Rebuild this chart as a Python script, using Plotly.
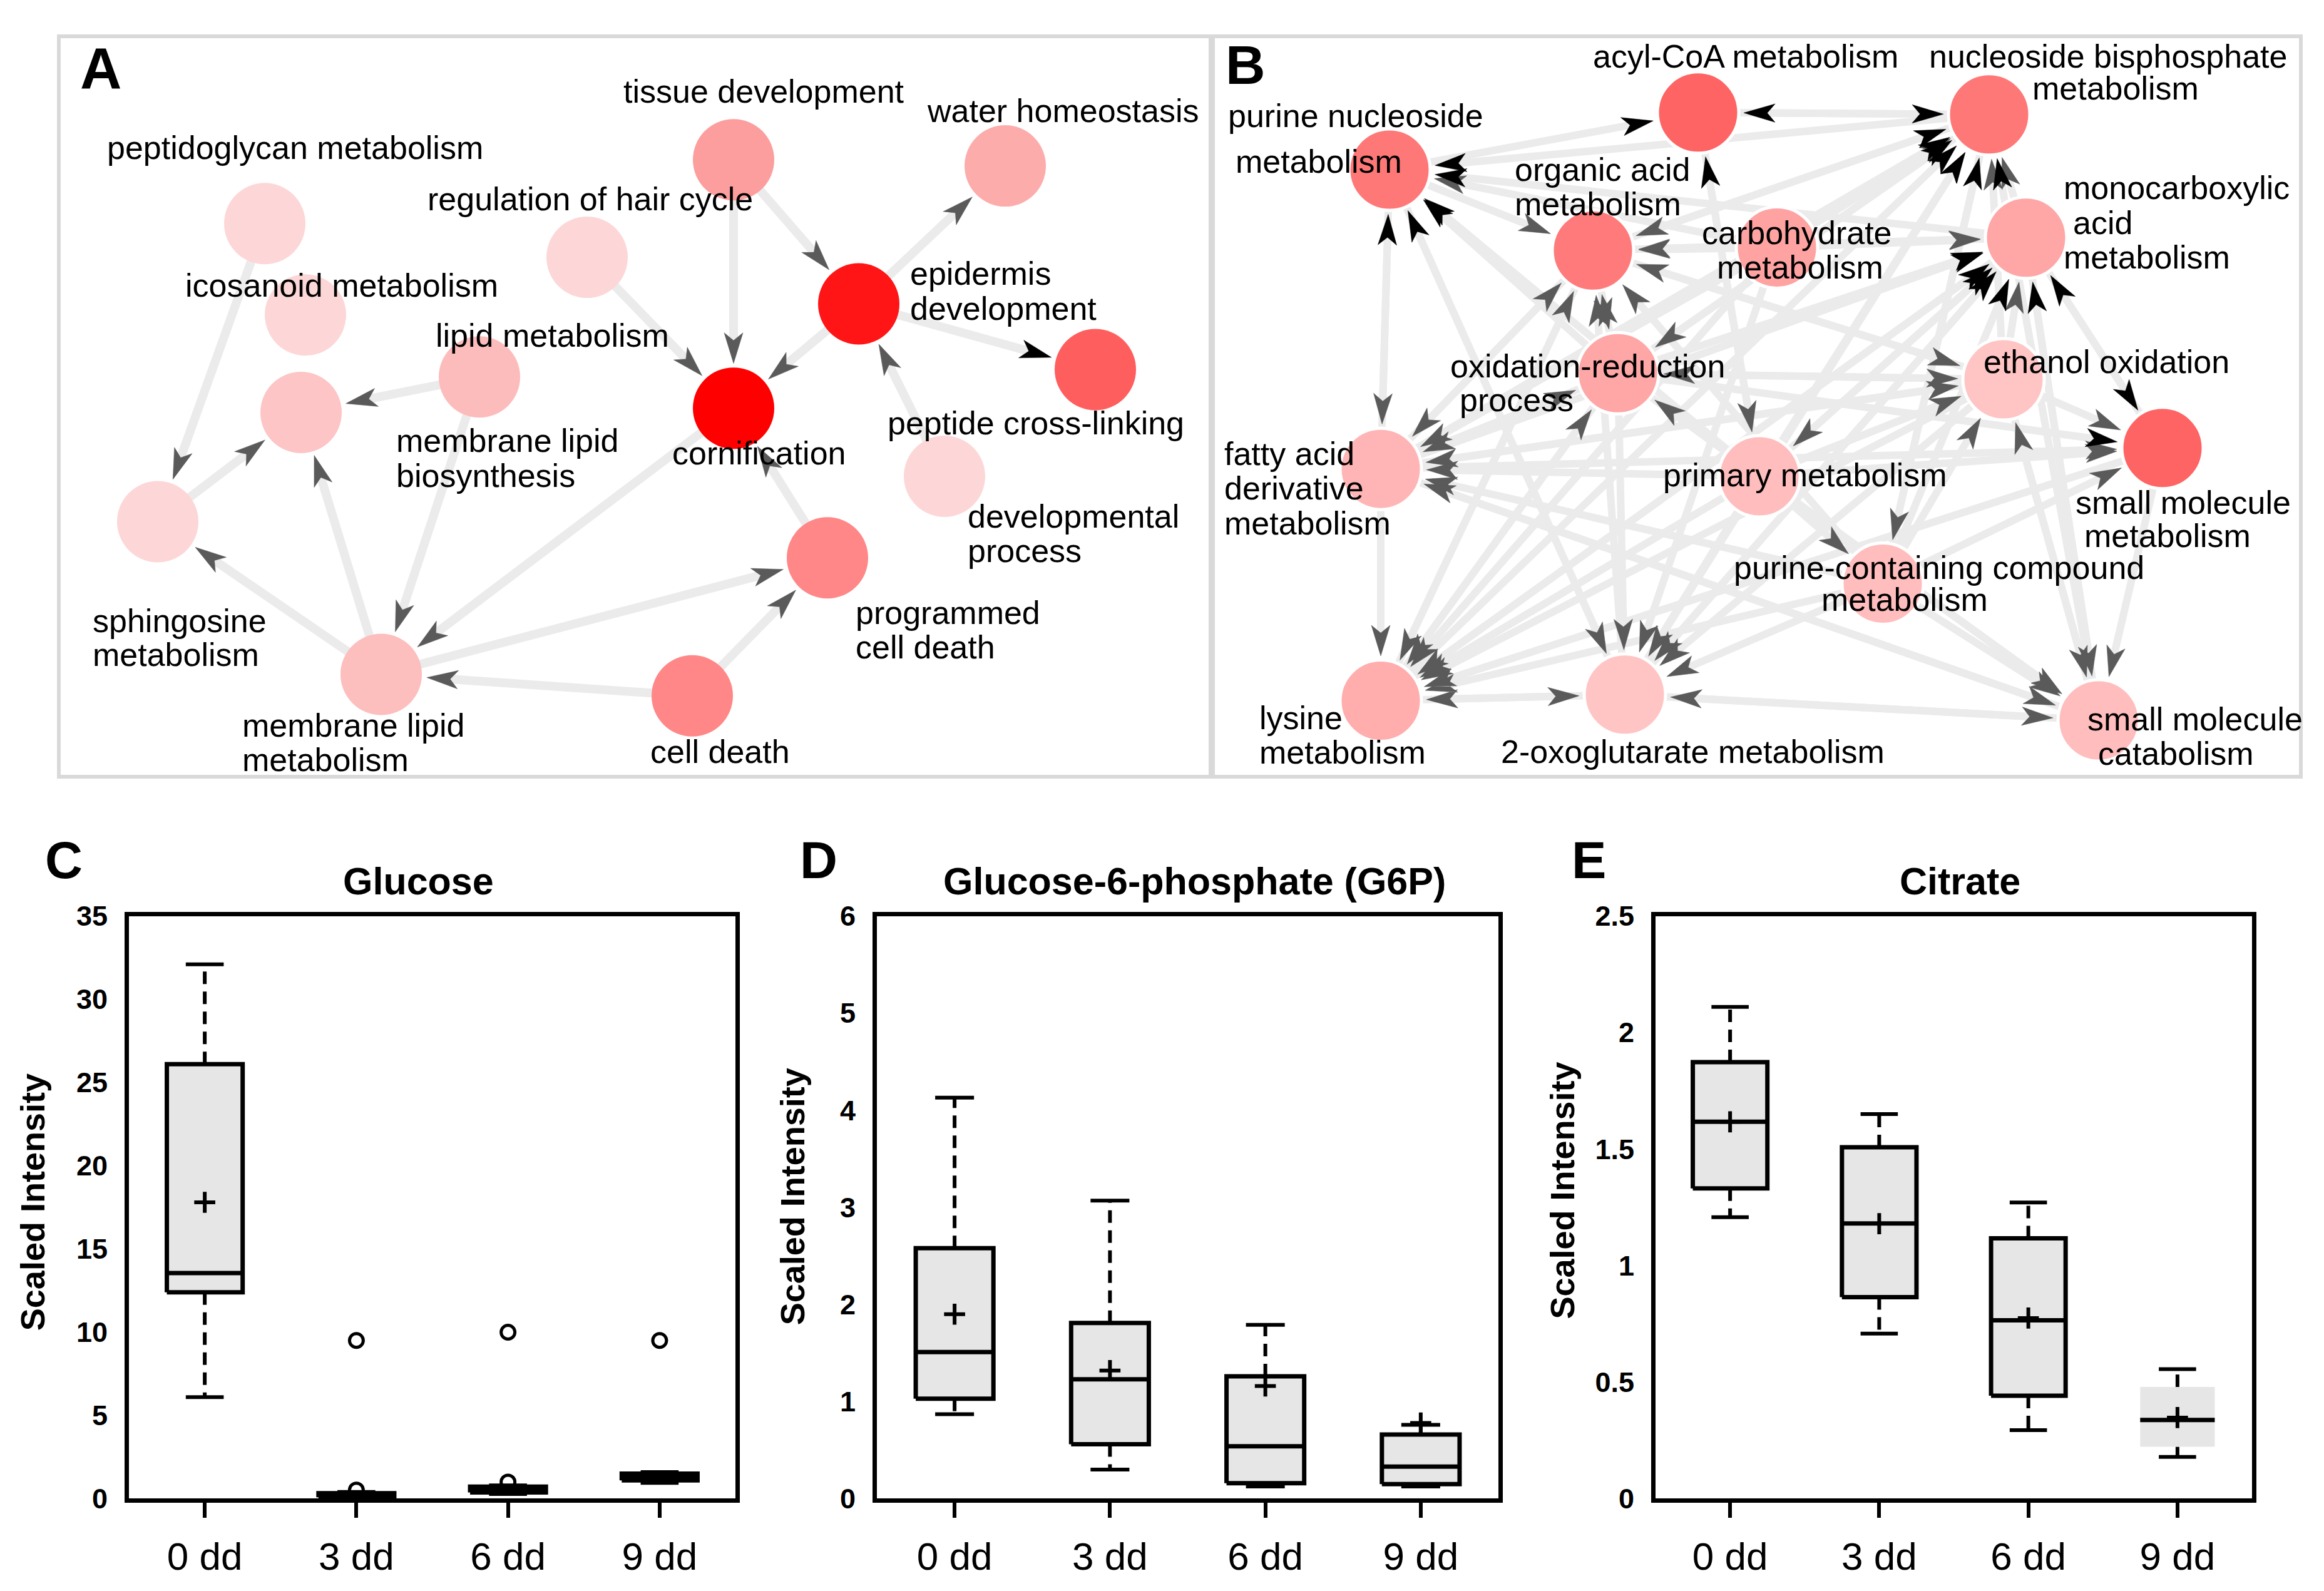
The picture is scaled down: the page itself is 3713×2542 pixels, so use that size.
import math
import plotly.graph_objects as go

W, H = 3713, 2542
FONT = "Liberation Sans"

# ------------------------------------------------------------------
# Box-plot data
# ------------------------------------------------------------------
groups = ["0 dd", "3 dd", "6 dd", "9 dd"]

glc_q1 = [12.4, 0.08, 0.38, 1.10]
glc_med = [13.55, 0.20, 0.55, 1.30]
glc_q3 = [26.1, 0.33, 0.72, 1.50]
glc_lo = [6.1, 0.03, 0.28, 0.95]
glc_hi = [32.1, 0.40, 0.80, 1.60]
glc_mean = [17.8, None, None, None]
glc_out_group = ["3 dd", "3 dd", "6 dd", "6 dd", "9 dd"]
glc_out_value = [9.5, 0.52, 10.0, 1.0, 9.5]

g6p_q1 = [1.03, 0.56, 0.16, 0.15]
g6p_med = [1.51, 1.23, 0.54, 0.33]
g6p_q3 = [2.58, 1.81, 1.26, 0.66]
g6p_lo = [0.87, 0.30, 0.125, 0.125]
g6p_hi = [4.13, 3.07, 1.79, 0.76]
g6p_mean = [1.90, 1.32, 1.16, 0.78]

cit_q1 = [1.331, 0.865, 0.442, 0.223]
cit_med = [1.617, 1.181, 0.765, 0.338]
cit_q3 = [1.873, 1.508, 1.117, 0.479]
cit_lo = [1.208, 0.708, 0.294, 0.179]
cit_hi = [2.110, 1.650, 1.271, 0.556]
cit_mean = [1.617, 1.180, 0.775, 0.348]

# ------------------------------------------------------------------
# Network A (GO terms): ids, layout positions, node colours, edges
# ------------------------------------------------------------------
a_ids = ["pep", "ico", "hair", "tis", "wat", "epi", "mlb", "lip", "cor",
         "pcl", "dev", "sph", "mlm", "pcd", "cd"]
a_x = [423, 488, 938, 1172, 1606, 1372, 766, 481, 1172, 1750, 1509, 252, 609, 1322, 1106]
a_y = [339, 488, 394, 235, 245, 470, 589, 647, 640, 577, 751, 825, 1074, 884, 1109]
a_col = ["#FDD7D7", "#FDD7D7", "#FDD7D7", "#FC9E9E", "#FDACAC", "#FF1515", "#FDBCBC",
         "#FDC5C5", "#FF0000", "#FF5E5E", "#FDD7D7", "#FDD7D7", "#FDBEBE", "#FF8787", "#FF8787"]
a_edges = [("pep", "sph", "g"), ("sph", "lip", "g"), ("mlb", "lip", "g"), ("mlm", "lip", "g"),
           ("mlm", "sph", "g"), ("mlb", "mlm", "g"), ("cor", "mlm", "g"), ("mlm", "pcd", "g"),
           ("cd", "mlm", "g"), ("cd", "pcd", "g"), ("pcd", "cor", "g"), ("hair", "cor", "g"),
           ("tis", "cor", "g"), ("tis", "epi", "g"), ("epi", "cor", "g"), ("epi", "wat", "g"),
           ("epi", "pcl", "k"), ("dev", "epi", "g")]
a_lab_text = ["peptidoglycan metabolism", "icosanoid metabolism", "regulation of hair cycle",
              "tissue development", "water homeostasis", "epidermis", "development",
              "lipid metabolism", "membrane lipid", "biosynthesis", "cornification",
              "peptide cross-linking", "developmental", "process", "sphingosine", "metabolism",
              "membrane lipid", "metabolism", "programmed", "cell death", "cell death"]
a_lab_x = [169, 294, 681, 994, 1479, 1452, 1452, 694, 631, 631, 1072, 1416, 1544, 1544,
           146, 146, 385, 385, 1365, 1365, 1037]
a_lab_y = [215, 440, 299, 123, 155, 420, 478, 521, 693, 750, 713, 664, 816, 872,
           987, 1042, 1157, 1213, 974, 1030, 1200]
a_lab_anchor = ["left"] * len(a_lab_text)

# ------------------------------------------------------------------
# Network B
# ------------------------------------------------------------------
b_ids = ["PN", "AC", "NB", "OA", "CH", "MC", "OR", "EO", "SM", "FA", "PM", "PC", "LY", "OG", "SC"]
b_x = [2220, 2713, 3178, 2545, 2839, 3237, 2585, 3201, 3455, 2206, 2811, 3008, 2206, 2596, 3353]
b_y = [251, 158, 161, 383, 378, 362, 583, 593, 705, 739, 751, 926, 1117, 1107, 1149]
b_col = ["#FF7878", "#FF6464", "#FF7878", "#FF7B7B", "#FFA2A2", "#FFA6A6", "#FFA6A6", "#FFC4C4",
         "#FF6464", "#FFB5B5", "#FFBDBD", "#FFBDBD", "#FFADAD", "#FFC5C5", "#FFBDBD"]
b_edges = [
    ("NB", "PN", "k"), ("MC", "PN", "k"), ("CH", "PN", "g"), ("OR", "PN", "k"), ("PM", "PN", "k"),
    ("OG", "PN", "k"), ("FA", "PN", "k"),
    ("PN", "AC", "k"), ("NB", "AC", "k"), ("PM", "AC", "k"),
    ("AC", "NB", "k"), ("OA", "NB", "k"), ("CH", "NB", "g"), ("OR", "NB", "k"), ("FA", "NB", "k"),
    ("PM", "NB", "k"), ("OG", "NB", "k"), ("EO", "NB", "g"), ("MC", "NB", "g"), ("PC", "NB", "k"),
    ("SC", "NB", "k"), ("LY", "NB", "k"),
    ("CH", "MC", "g"), ("OA", "MC", "g"), ("OR", "MC", "k"), ("FA", "MC", "k"), ("LY", "MC", "k"),
    ("PM", "MC", "k"), ("OG", "MC", "k"), ("EO", "MC", "g"), ("PC", "MC", "k"), ("SC", "MC", "k"),
    ("SM", "MC", "k"),
    ("PN", "OA", "g"), ("NB", "OA", "g"), ("CH", "OA", "g"), ("MC", "OA", "g"), ("EO", "OA", "g"),
    ("PC", "OA", "g"), ("OR", "OA", "g"), ("OG", "OA", "g"), ("FA", "OA", "g"), ("LY", "OA", "g"),
    ("OA", "OR", "g"), ("NB", "OR", "g"), ("EO", "OR", "g"), ("FA", "OR", "g"), ("LY", "OR", "g"),
    ("PM", "OR", "g"),
    ("OA", "EO", "g"), ("OR", "EO", "g"), ("FA", "EO", "g"), ("PM", "EO", "g"), ("PC", "EO", "g"),
    ("SC", "EO", "g"),
    ("MC", "SM", "k"), ("EO", "SM", "g"), ("PM", "SM", "g"), ("FA", "SM", "g"), ("PC", "SM", "g"),
    ("OR", "SM", "k"),
    ("MC", "SC", "g"), ("EO", "SC", "g"), ("SM", "SC", "g"), ("PM", "SC", "g"), ("PC", "SC", "g"),
    ("OR", "SC", "g"), ("FA", "SC", "g"), ("OG", "SC", "g"),
    ("NB", "PC", "g"), ("PM", "PC", "g"),
    ("AC", "PM", "g"), ("MC", "PM", "g"),
    ("PN", "FA", "g"), ("OA", "FA", "g"), ("OR", "FA", "g"), ("CH", "FA", "g"), ("PM", "FA", "g"),
    ("EO", "FA", "g"), ("SC", "FA", "g"), ("PC", "FA", "g"),
    ("FA", "LY", "g"), ("OR", "LY", "g"), ("OA", "LY", "g"), ("CH", "LY", "g"), ("PM", "LY", "g"),
    ("EO", "LY", "g"), ("MC", "LY", "g"), ("SM", "LY", "g"), ("PC", "LY", "g"), ("OG", "LY", "g"),
    ("OR", "OG", "g"), ("PN", "OG", "g"), ("PM", "OG", "g"), ("CH", "OG", "g"), ("EO", "OG", "g"),
    ("MC", "OG", "g"), ("PC", "OG", "g"), ("LY", "OG", "g"), ("SC", "OG", "g"),
]
b_lab_text = ["purine nucleoside", "metabolism", "acyl-CoA metabolism", "nucleoside bisphosphate",
              "metabolism", "organic acid", "metabolism", "carbohydrate", "metabolism",
              "monocarboxylic", "acid", "metabolism", "oxidation-reduction", "process",
              "ethanol oxidation", "small molecule", "metabolism", "fatty acid", "derivative",
              "metabolism", "primary metabolism", "purine-containing compound", "metabolism",
              "lysine", "metabolism", "2-oxoglutarate metabolism", "small molecule", "catabolism"]
b_lab_x = [1960, 1972, 2543, 3368, 3380, 2418, 2418, 2871, 2876, 3295, 3310, 3295, 2315, 2330,
           3167, 3314, 3328, 1954, 1954, 1954, 2655, 3098, 3043, 2010, 2010, 2396, 3333, 3350]
b_lab_y = [163, 238, 66, 66, 118, 251, 307, 354, 410, 281, 338, 394, 571, 627,
           564, 794, 848, 714, 770, 828, 749, 900, 952, 1145, 1201, 1200, 1147, 1203]
b_lab_anchor = ["left", "left", "left", "center", "center", "left", "left", "center", "center",
                "left", "left", "left", "left", "left", "left", "left", "left", "left", "left",
                "left", "left", "center", "center", "left", "left", "left", "left", "left"]

# ------------------------------------------------------------------
# Layout geometry (page pixels)
# ------------------------------------------------------------------
NET_TOP, NET_BOT = 37, 1238
A_LEFT, A_RIGHT = 97, 1931
B_LEFT, B_RIGHT = 1941, 3673
BOX_TOP, BOX_BOT = 1468, 2418
C_X = (206, 1175)
D_X = (1401, 2394)
E_X = (2645, 3598)

fig = go.Figure()


def xdom(a, b):
    return [a / W, b / W]


def ydom(top, bot):
    return [1 - bot / H, 1 - top / H]


# ------------------------------------------------------------------
# network drawing
# ------------------------------------------------------------------
def add_network(ids, xs, ys, cols, edges, xa, ya, edge_w, node_line_w):
    pos = {i: (x, y) for i, x, y in zip(ids, xs, ys)}
    R = 65
    L, AW = 50, 30
    ex, ey = [], []
    arrows = {"g": ([], []), "k": ([], [])}
    for s, t, c in edges:
        x0, y0 = pos[s]
        x1, y1 = pos[t]
        dx, dy = x1 - x0, y1 - y0
        d = math.hypot(dx, dy)
        ux, uy = dx / d, dy / d
        px, py = -uy, ux
        tx, ty = x1 - ux * (R + 8), y1 - uy * (R + 8)
        bx, by = tx - ux * L, ty - uy * L
        nx, ny = tx - ux * L * 0.75, ty - uy * L * 0.75
        ex += [x0, nx, None]
        ey += [y0, ny, None]
        ax, ay = arrows[c]
        ax += [tx, bx + px * AW / 2, nx, bx - px * AW / 2, tx, None]
        ay += [ty, by + py * AW / 2, ny, by - py * AW / 2, ty, None]
    fig.add_trace(go.Scatter(x=ex, y=ey, mode="lines", xaxis=xa, yaxis=ya,
                             line=dict(color="#EBEBEB", width=edge_w), hoverinfo="skip",
                             showlegend=False))
    for c, colr in (("g", "#5A5A5A"), ("k", "#000000")):
        ax, ay = arrows[c]
        if ax:
            fig.add_trace(go.Scatter(x=ax, y=ay, mode="lines", fill="toself", fillcolor=colr,
                                     line=dict(color=colr, width=0.5), xaxis=xa, yaxis=ya,
                                     hoverinfo="skip", showlegend=False))
    fig.add_trace(go.Scatter(x=xs, y=ys, mode="markers", xaxis=xa, yaxis=ya,
                             marker=dict(size=2 * R, color=cols,
                                         line=dict(color="white", width=node_line_w)),
                             hoverinfo="skip", showlegend=False))


add_network(a_ids, a_x, a_y, a_col, a_edges, "x4", "y4", 14, 0)
add_network(b_ids, b_x, b_y, b_col, b_edges, "x5", "y5", 12, 5)

annotations = []
for txt, x, y, anc in zip(a_lab_text, a_lab_x, a_lab_y, a_lab_anchor):
    annotations.append(dict(text=txt, x=x, y=y, xref="x4", yref="y4", xanchor=anc,
                            yanchor="middle", showarrow=False,
                            font=dict(family=FONT, size=52, color="black")))
for txt, x, y, anc in zip(b_lab_text, b_lab_x, b_lab_y, b_lab_anchor):
    annotations.append(dict(text=txt, x=x, y=y, xref="x5", yref="y5", xanchor=anc,
                            yanchor="middle", showarrow=False,
                            font=dict(family=FONT, size=52, color="black")))


# ------------------------------------------------------------------
# box plots
# ------------------------------------------------------------------
def add_box_panel(q1, med, q3, lo, hi, mean, xa, ya, outline, out_g=None, out_v=None):
    hw, cw = 0.25, 0.125
    idx = list(range(len(groups)))
    wx, wy = [], []
    cx, cy = [], []
    mx, my = [], []
    for i in idx:
        wx += [i, i, None, i, i, None]
        wy += [q3[i], hi[i], None, q1[i], lo[i], None]
        cx += [i - cw, i + cw, None, i - cw, i + cw, None]
        cy += [hi[i], hi[i], None, lo[i], lo[i], None]
        mx += [i - hw, i + hw, None]
        my += [med[i], med[i], None]
    fig.add_trace(go.Scatter(x=wx, y=wy, mode="lines", xaxis=xa, yaxis=ya,
                             line=dict(color="black", width=6, dash="20px,12px"),
                             hoverinfo="skip", showlegend=False))
    fig.add_trace(go.Scatter(x=cx, y=cy, mode="lines", xaxis=xa, yaxis=ya,
                             line=dict(color="black", width=6), hoverinfo="skip",
                             showlegend=False))
    for flag in (True, False):
        bx, by = [], []
        for i in idx:
            if outline[i] != flag:
                continue
            bx += [i - hw, i + hw, i + hw, i - hw, i - hw, None]
            by += [q1[i], q1[i], q3[i], q3[i], q1[i], None]
        if bx:
            fig.add_trace(go.Scatter(
                x=bx, y=by, mode="lines", fill="toself", fillcolor="#E6E6E6",
                line=dict(color="black" if flag else "rgba(0,0,0,0)", width=7 if flag else 0),
                xaxis=xa, yaxis=ya, hoverinfo="skip", showlegend=False))
    fig.add_trace(go.Scatter(x=mx, y=my, mode="lines", xaxis=xa, yaxis=ya,
                             line=dict(color="black", width=7), hoverinfo="skip",
                             showlegend=False))
    mean_x = [i for i in idx if mean[i] is not None]
    mean_y = [mean[i] for i in idx if mean[i] is not None]
    fig.add_trace(go.Scatter(x=mean_x, y=mean_y, mode="markers", xaxis=xa, yaxis=ya,
                             marker=dict(symbol="cross-thin", size=24,
                                         line=dict(color="black", width=6)),
                             hoverinfo="skip", showlegend=False))
    if out_g:
        fig.add_trace(go.Scatter(x=[groups.index(g) for g in out_g], y=out_v, mode="markers",
                                 xaxis=xa, yaxis=ya,
                                 marker=dict(symbol="circle-open", size=22, color="black",
                                             line=dict(width=5)),
                                 hoverinfo="skip", showlegend=False))


add_box_panel(glc_q1, glc_med, glc_q3, glc_lo, glc_hi, glc_mean, "x", "y",
              [True] * 4, glc_out_group, glc_out_value)
add_box_panel(g6p_q1, g6p_med, g6p_q3, g6p_lo, g6p_hi, g6p_mean, "x2", "y2", [True] * 4)
add_box_panel(cit_q1, cit_med, cit_q3, cit_lo, cit_hi, cit_mean, "x3", "y3",
              [True, True, True, False])


def box_xaxis(dom, anchor):
    return dict(domain=xdom(*dom), anchor=anchor, range=[-0.5, 3.5],
                tickvals=list(range(len(groups))), ticktext=groups,
                ticks="outside", ticklen=24, tickwidth=6, tickcolor="black",
                ticklabelstandoff=8,
                tickfont=dict(family=FONT, size=62, color="black"),
                showline=True, mirror=True, linecolor="black", linewidth=7,
                showgrid=False, zeroline=False, fixedrange=True)


def box_yaxis(anchor, rng, tv):
    return dict(domain=ydom(BOX_TOP, BOX_BOT), anchor=anchor, range=rng, tickvals=tv,
                ticks="", ticklabelstandoff=18,
                tickfont=dict(family=FONT, size=45, color="black", weight="bold"),
                showline=True, mirror=True, linecolor="black", linewidth=7,
                showgrid=False, zeroline=False, fixedrange=True)


def net_axis(dom, anchor, rng):
    return dict(domain=dom, anchor=anchor, range=rng, showline=True, mirror=True,
                linecolor="#D9D9D9", linewidth=6, showticklabels=False, ticks="",
                showgrid=False, zeroline=False, fixedrange=True)


# titles, y titles, panel letters
titles = [("Glucose", 668), ("Glucose-6-phosphate (G6P)", 1908), ("Citrate", 3131)]
for txt, x in titles:
    annotations.append(dict(text="<b>" + txt + "</b>", x=x / W, y=1 - 1411 / H, xref="paper",
                            yref="paper", xanchor="center", yanchor="middle", showarrow=False,
                            font=dict(family=FONT, size=61, color="black")))
for x, y in ((52, 1935), (1266, 1926), (2496, 1916)):
    annotations.append(dict(text="<b>Scaled Intensity</b>", x=x / W, y=1 - y / H,
                            xref="paper", yref="paper", xanchor="center", yanchor="middle",
                            textangle=-90, showarrow=False,
                            font=dict(family=FONT, size=54, color="black")))
for txt, x, y, sz in (("A", 161, 86, 92), ("B", 1990, 80, 88), ("C", 102, 1377, 83),
                      ("D", 1308, 1377, 83), ("E", 2538, 1377, 83)):
    annotations.append(dict(text="<b>" + txt + "</b>", x=x / W, y=1 - y / H, xref="paper",
                            yref="paper", xanchor="center", yanchor="middle", showarrow=False,
                            font=dict(family=FONT, size=sz, color="black")))

fig.update_layout(
    width=W, height=H, autosize=False,
    margin=dict(l=0, r=0, t=0, b=0, pad=0),
    paper_bgcolor="white", plot_bgcolor="white",
    showlegend=False,
    xaxis=box_xaxis(C_X, "y"),
    yaxis=box_yaxis("x", [0, 35], [0, 5, 10, 15, 20, 25, 30, 35]),
    xaxis2=box_xaxis(D_X, "y2"),
    yaxis2=box_yaxis("x2", [0, 6], [0, 1, 2, 3, 4, 5, 6]),
    xaxis3=box_xaxis(E_X, "y3"),
    yaxis3=box_yaxis("x3", [0, 2.5], [0, 0.5, 1, 1.5, 2, 2.5]),
    xaxis4=net_axis(xdom(A_LEFT, A_RIGHT), "y4", [A_LEFT, A_RIGHT]),
    yaxis4=net_axis(ydom(NET_TOP, NET_BOT), "x4", [NET_BOT, NET_TOP]),
    xaxis5=net_axis(xdom(B_LEFT, B_RIGHT), "y5", [B_LEFT, B_RIGHT]),
    yaxis5=net_axis(ydom(NET_TOP, NET_BOT), "x5", [NET_BOT, NET_TOP]),
    annotations=annotations,
)

fig.write_html("out.html", config={"displayModeBar": False},
               post_script="document.body.style.margin='0';")
